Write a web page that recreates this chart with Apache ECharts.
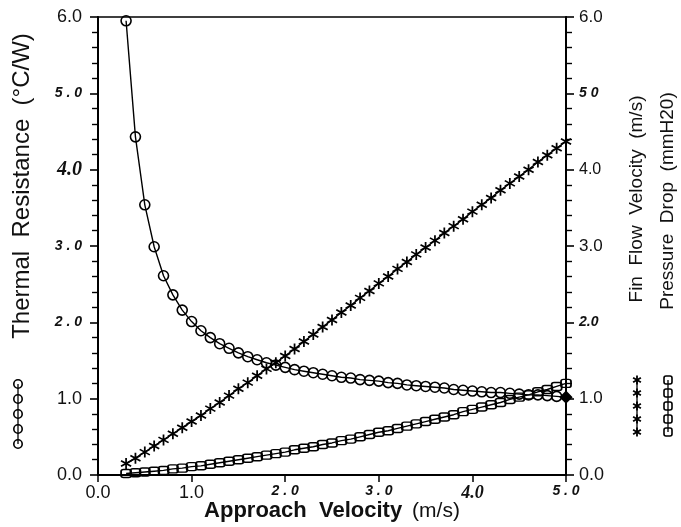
<!DOCTYPE html>
<html>
<head>
<meta charset="utf-8">
<script src="https://cdn.jsdelivr.net/npm/echarts@6/dist/echarts.min.js"></script>
<style>
  html, body { margin: 0; padding: 0; background: #fff; }
  #chart { width: 681px; height: 527px; }
</style>
</head>
<body>
<div id="chart"></div>
<script>
// approach velocity (m/s), one point every 0.1
const velocity = [
  0.3, 0.4, 0.5, 0.6, 0.7, 0.8, 0.9, 1.0, 1.1, 1.2,
  1.3, 1.4, 1.5, 1.6, 1.7, 1.8, 1.9, 2.0, 2.1, 2.2,
  2.3, 2.4, 2.5, 2.6, 2.7, 2.8, 2.9, 3.0, 3.1, 3.2,
  3.3, 3.4, 3.5, 3.6, 3.7, 3.8, 3.9, 4.0, 4.1, 4.2,
  4.3, 4.4, 4.5, 4.6, 4.7, 4.8, 4.9, 5.0
];
// thermal resistance (°C/W) - circles
const thermalResistance = [
  5.95, 4.43, 3.54, 2.99, 2.61, 2.36, 2.16, 2.01, 1.89, 1.80,
  1.72, 1.66, 1.60, 1.55, 1.51, 1.47, 1.44, 1.41, 1.38, 1.36,
  1.34, 1.32, 1.30, 1.28, 1.27, 1.25, 1.24, 1.23, 1.21, 1.20,
  1.18, 1.17, 1.16, 1.15, 1.14, 1.12, 1.11, 1.10, 1.09, 1.08,
  1.08, 1.07, 1.06, 1.05, 1.05, 1.04, 1.03, 1.02
];
// fin flow velocity (m/s) - stars
const finFlowVelocity = [
  0.15, 0.22, 0.30, 0.38, 0.46, 0.54, 0.62, 0.70, 0.78, 0.87,
  0.95, 1.04, 1.13, 1.21, 1.30, 1.39, 1.47, 1.56, 1.65, 1.75,
  1.84, 1.94, 2.03, 2.13, 2.22, 2.32, 2.41, 2.51, 2.60, 2.70,
  2.79, 2.89, 2.98, 3.07, 3.17, 3.26, 3.35, 3.45, 3.54, 3.63,
  3.73, 3.82, 3.91, 4.00, 4.10, 4.19, 4.28, 4.37
];
// pressure drop (mmH2O) - squares
const pressureDrop = [
  0.02, 0.03, 0.04, 0.05, 0.06, 0.08, 0.09, 0.11, 0.12, 0.14,
  0.16, 0.18, 0.20, 0.22, 0.24, 0.26, 0.28, 0.30, 0.33, 0.35,
  0.37, 0.40, 0.42, 0.45, 0.47, 0.50, 0.53, 0.56, 0.58, 0.61,
  0.64, 0.67, 0.70, 0.73, 0.76, 0.79, 0.83, 0.86, 0.89, 0.92,
  0.95, 0.99, 1.02, 1.05, 1.09, 1.12, 1.16, 1.20
];

// tick labels as printed (index = value)
const leftTickLabels = ['0.0', '1.0', '2 . 0', '3 . 0', '4.0', '5 . 0', '6.0'];
const rightTickLabels = ['0.0', '1.0', '2.0', '3.0', '4.0', '5 0', '6.0'];
const xTickLabels = ['0.0', '1.0', '2 . 0', '3 . 0', '4.0', '5 . 0'];

const SANS = '"Liberation Sans", Arial, sans-serif';
const SERIF = '"Liberation Serif", "DejaVu Serif", serif';
const INK = '#111';

const plain = (size) => ({ fontSize: size, fontFamily: SANS, color: INK });
const ital = (size) => ({ fontSize: size, fontFamily: SANS, fontStyle: 'italic', fontWeight: 'bold', color: INK });
const serifItal = (size) => ({ fontSize: size, fontFamily: SERIF, fontStyle: 'italic', fontWeight: 'bold', color: INK });

const leftRich = { s0: plain(18), s1: plain(18), s2: ital(14), s3: ital(14), s4: serifItal(20), s5: ital(14), s6: plain(18) };
const rightRich = { s0: plain(18), s1: plain(17), s2: ital(14), s3: plain(17), s4: plain(16), s5: ital(14), s6: plain(17) };
const xRich = { s0: plain(18), s1: plain(18), s2: ital(14), s3: ital(14), s4: serifItal(18), s5: ital(14) };

const fmt = (labels) => (v) => {
  const i = Math.round(v);
  return '{s' + i + '|' + labels[i] + '}';
};

const pairs = (ys) => velocity.map((v, i) => [v, ys[i]]);

const thermalData = pairs(thermalResistance);
const last = thermalData.length - 1;
thermalData[last] = { value: thermalData[last], symbol: 'diamond', symbolSize: 11, itemStyle: { color: '#000' } };

const STAR = 'path://M-0.15,-1L0.15,-1L0.15,1L-0.15,1Z' +
  'M0.791,-0.630L0.941,-0.370L-0.791,0.630L-0.941,0.370Z' +
  'M0.941,0.370L0.791,0.630L-0.941,-0.370L-0.791,-0.630Z';

const chart = echarts.init(document.getElementById('chart'), null, { renderer: 'canvas' });

// legend strips drawn beside the axis titles
const legendY = [380, 393, 406, 419, 432];
const leftLegendY = [384, 399, 414, 429, 444];
const graphics = [];
graphics.push({ type: 'line', shape: { x1: 18, y1: leftLegendY[0], x2: 18, y2: leftLegendY[4] }, style: { stroke: '#000', lineWidth: 1.3 } });
leftLegendY.forEach((y) => {
  graphics.push({ type: 'circle', shape: { cx: 18, cy: y, r: 4.2 }, style: { fill: 'rgba(0,0,0,0)', stroke: '#000', lineWidth: 1.6 } });
});
graphics.push({ type: 'line', shape: { x1: 637, y1: legendY[0], x2: 637, y2: legendY[4] }, style: { stroke: '#000', lineWidth: 1.3 } });
legendY.forEach((y) => {
  [0, Math.PI / 3, 2 * Math.PI / 3].forEach((a) => {
    const dx = 4.5 * Math.sin(a), dy = 4.5 * Math.cos(a);
    graphics.push({ type: 'line', shape: { x1: 637 - dx, y1: y - dy, x2: 637 + dx, y2: y + dy }, style: { stroke: '#000', lineWidth: 1.8 } });
  });
});
graphics.push({ type: 'line', shape: { x1: 668, y1: legendY[0], x2: 668, y2: legendY[4] }, style: { stroke: '#000', lineWidth: 1.3 } });
legendY.forEach((y) => {
  graphics.push({ type: 'rect', shape: { x: 664, y: y - 4, width: 8, height: 8, r: 2 }, style: { fill: 'rgba(0,0,0,0)', stroke: '#000', lineWidth: 1.6 } });
});
// axis titles
graphics.push({
  type: 'text', x: 22, y: 186, rotation: Math.PI / 2,
  style: { text: 'Thermal  Resistance  (°C/W)', fontSize: 24, fontFamily: SANS, fill: INK, align: 'center', verticalAlign: 'middle' }
});
graphics.push({
  type: 'text', x: 637, y: 199, rotation: Math.PI / 2,
  style: { text: 'Fin  Flow  Velocity  (m/s)', fontSize: 19, fontFamily: SANS, fill: INK, align: 'center', verticalAlign: 'middle' }
});
graphics.push({
  type: 'text', x: 668, y: 201, rotation: Math.PI / 2,
  style: { text: 'Pressure  Drop  (mmH20)', fontSize: 19, fontFamily: SANS, fill: INK, align: 'center', verticalAlign: 'middle' }
});

const yAxisBase = {
  type: 'value', min: 0, max: 6, interval: 1,
  splitLine: { show: false },
  axisLine: { show: true, lineStyle: { color: '#000', width: 2 } },
  axisTick: { show: true, inside: false, length: 8, lineStyle: { color: '#000', width: 1.6 } },
  minorTick: { show: true, splitNumber: 5, length: 6, lineStyle: { color: '#000', width: 1.4 } },
  minorSplitLine: { show: false }
};

const option = {
  animation: false,
  backgroundColor: '#fff',
  grid: {
    left: 98, right: 115, top: 17, bottom: 52,
    outerBoundsMode: 'none',
    show: true, borderColor: '#000', borderWidth: 1.6, backgroundColor: 'rgba(0,0,0,0)'
  },
  xAxis: {
    type: 'value', min: 0, max: 5, interval: 1,
    splitLine: { show: false },
    axisLine: { show: true, onZero: false, lineStyle: { color: '#000', width: 2.2 } },
    axisTick: { show: true, length: 7, lineStyle: { color: '#000', width: 1.5 } },
    axisLabel: { margin: 9, formatter: fmt(xTickLabels), rich: xRich },
    name: '{b|Approach  Velocity}   {n|(m/s)}',
    nameLocation: 'middle', nameGap: 36,
    nameMoveOverlap: false,
    nameTextStyle: {
      verticalAlign: 'middle',
      rich: {
        b: { fontSize: 22, fontWeight: 'bold', fontFamily: SANS, color: INK, lineHeight: 22 },
        n: { fontSize: 21, fontFamily: SANS, color: INK, lineHeight: 22 }
      }
    }
  },
  yAxis: [
    Object.assign({}, yAxisBase, {
      position: 'left',
      axisLabel: { margin: 16, formatter: fmt(leftTickLabels), rich: leftRich }
    }),
    Object.assign({}, yAxisBase, {
      position: 'right',
      axisLabel: { margin: 13, formatter: fmt(rightTickLabels), rich: rightRich }
    })
  ],
  series: [
    {
      name: 'Thermal Resistance', type: 'line', yAxisIndex: 0,
      data: thermalData,
      symbol: 'circle', symbolSize: 10,
      itemStyle: { color: 'rgba(255,255,255,0)', borderColor: '#000', borderWidth: 1.6 },
      lineStyle: { color: '#000', width: 1.4 },
      emphasis: { disabled: true }
    },
    {
      name: 'Fin Flow Velocity', type: 'line', yAxisIndex: 1,
      data: pairs(finFlowVelocity),
      symbol: STAR, symbolSize: 11,
      itemStyle: { color: '#000', borderWidth: 0 },
      lineStyle: { color: '#000', width: 1.4 },
      emphasis: { disabled: true }
    },
    {
      name: 'Pressure Drop', type: 'line', yAxisIndex: 1,
      data: pairs(pressureDrop),
      symbol: 'roundRect', symbolSize: [10, 8],
      itemStyle: { color: 'rgba(255,255,255,0)', borderColor: '#000', borderWidth: 1.6 },
      lineStyle: { color: '#000', width: 1.4 },
      emphasis: { disabled: true }
    }
  ],
  graphic: graphics
};

chart.setOption(option);
</script>
</body>
</html>
